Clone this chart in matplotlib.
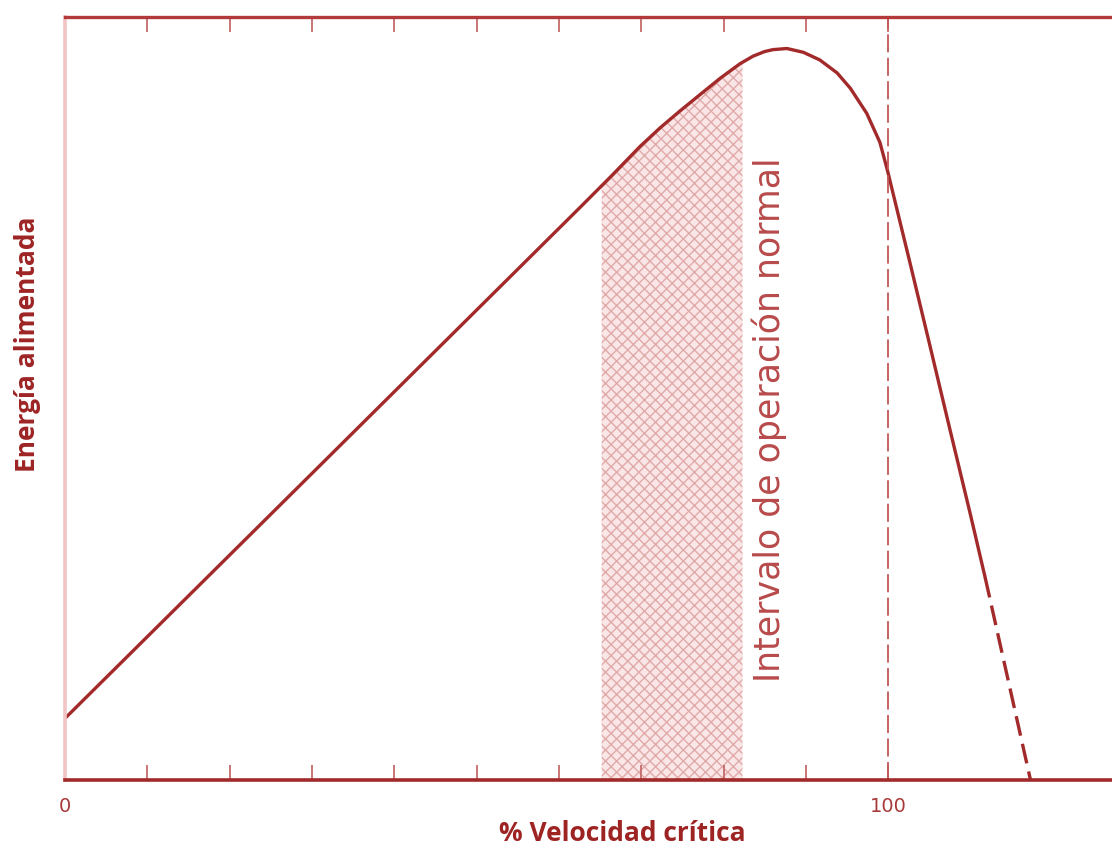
import matplotlib.pyplot as plt
import numpy as np

# curve (% critical speed vs energy, arbitrary units)
curve_x = [0, 28.6, 62.6, 66.3, 69.9, 72.3, 74.7, 77.2, 79.6, 82.0, 83.6, 85.0,
           86.0, 87.7, 89.7, 91.7, 93.8, 95.4, 97.4, 99.0, 99.9, 102.5, 105.0,
           107.5, 110.0, 111.8]
curve_y = [8.1, 38.7, 75.1, 79.1, 83.1, 85.5, 87.7, 89.9, 92.0, 93.9, 94.9, 95.5,
           95.75, 95.9, 95.4, 94.4, 92.7, 90.7, 87.4, 83.6, 80.0, 68.5, 57.3,
           46.0, 34.8, 26.5]
tail_x = [111.8, 117.3]
tail_y = [26.5, 0]
band = [65.2, 82.3]
tick_pos = [0, 10, 20, 30, 40, 50, 60, 70, 80, 90, 100]
tick_lbl = ['0', '', '', '', '', '', '', '', '', '', '100']

red = '#a32a2a'
pale = '#f2c4c4'

fig = plt.figure(figsize=(11.12, 8.61), dpi=100)
ax = fig.add_axes([0.0585, 0.094, 0.9415, 0.886])

cx = np.array(curve_x)
cy = np.array(curve_y)
inside = (cx > band[0]) & (cx < band[1])
fx = np.concatenate([[band[0]], cx[inside], [band[1]]])
fy = np.concatenate([[np.interp(band[0], cx, cy)], cy[inside], [np.interp(band[1], cx, cy)]])
ax.fill_between(fx, 0, fy, facecolor='#fae6e6', edgecolor='#e0aaaa',
                hatch='xxx', linewidth=0)

ax.plot(curve_x, curve_y, color=red, lw=2.4, solid_capstyle='round',
        solid_joinstyle='round')
ax.plot(tail_x, tail_y, color=red, lw=2.4, dashes=(6, 2.5))
ax.axvline(100, color='#c25858', lw=1.3, dashes=(10, 3))

ax.text(85.5, 47.2, 'Intervalo de operación normal', rotation=90,
        ha='center', va='center', fontsize=25, color='#b84a4a',
        family='DejaVu Sans')

ax.set_xlim(0, 127.2)
ax.set_ylim(0, 100)
ax.set_xticks(tick_pos)
ax.set_xticklabels(tick_lbl)
ax.set_yticks([])
ax.tick_params(axis='x', direction='in', length=11, width=1.3, color='#c56a6a',
               labelcolor='#a83a3a', labelsize=14, pad=12, top=True)

for side in ['right']:
    ax.spines[side].set_visible(False)
ax.spines['bottom'].set_color(red)
ax.spines['bottom'].set_linewidth(2.6)
ax.spines['top'].set_color('#b33a3a')
ax.spines['top'].set_linewidth(2.4)
ax.spines['left'].set_color(pale)
ax.spines['left'].set_linewidth(2.6)

fig.text(0.5595, 0.016, '% Velocidad crítica', ha='center', va='bottom',
         fontsize=19, fontweight='bold', color='#9e2424', family='Open Sans')
fig.text(0.025, 0.60, 'Energía alimentada', rotation=90, ha='center', va='center',
         fontsize=19, fontweight='bold', color='#9e2424', family='Open Sans')

fig.savefig('out.png', dpi=100)
